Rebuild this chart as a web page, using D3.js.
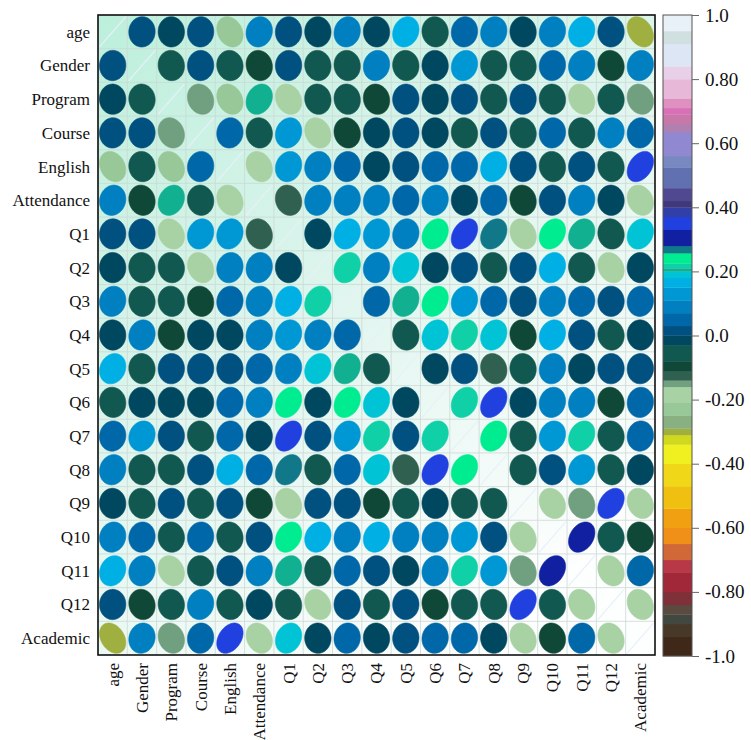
<!DOCTYPE html>
<html>
<head>
<meta charset="utf-8">
<script src="https://cdn.jsdelivr.net/npm/d3@7"></script>
<style>
  html, body { margin: 0; padding: 0; background: #ffffff; }
  svg { display: block; font-family: "Liberation Serif", "Times New Roman", serif; }
</style>
</head>
<body>
<svg id="chart" width="751" height="740"></svg>
<script>
// Variables in matrix order
const variables = ["age", "Gender", "Program", "Course", "English", "Attendance",
  "Q1", "Q2", "Q3", "Q4", "Q5", "Q6", "Q7", "Q8", "Q9", "Q10", "Q11", "Q12", "Academic"];

// Upper triangle of the correlation matrix, one row per variable (entries right of the diagonal)
const corrUpper = [
  [0.02, -0.01, 0.02, -0.22, 0.09, 0.02, -0.01, 0.09, -0.02, 0.16, -0.05, 0.05, 0.09, -0.02, 0.09, 0.16, 0.01, -0.30],
  [-0.04, 0.01, -0.05, -0.09, 0.02, -0.05, -0.05, 0.09, -0.04, -0.02, 0.13, -0.04, -0.07, 0.05, 0.09, -0.09, 0.09],
  [-0.15, -0.22, 0.205, -0.19, -0.06, -0.06, -0.09, 0.01, -0.02, 0.01, -0.07, 0.02, -0.04, -0.19, -0.04, -0.15],
  [0.05, -0.05, 0.13, -0.19, -0.09, -0.02, 0.02, -0.01, -0.06, 0.01, -0.07, 0.05, -0.05, 0.09, 0.05],
  [-0.19, 0.13, 0.09, 0.05, -0.02, 0.00, 0.05, 0.05, 0.16, 0.01, -0.06, 0.01, -0.07, 0.35],
  [-0.12, 0.09, 0.09, 0.09, 0.05, 0.09, -0.01, 0.05, -0.09, 0.02, 0.09, -0.02, -0.19],
  [-0.02, 0.16, 0.13, 0.09, 0.24, 0.35, 0.27, -0.19, 0.24, 0.205, -0.07, 0.19],
  [0.215, 0.09, 0.19, -0.01, 0.02, -0.07, 0.02, 0.16, -0.06, -0.19, -0.01],
  [0.05, 0.205, 0.24, 0.13, 0.05, 0.01, 0.09, 0.05, 0.00, 0.05],
  [-0.05, 0.19, 0.215, 0.19, -0.09, 0.16, 0.01, -0.05, -0.03],
  [-0.02, 0.01, -0.12, -0.04, 0.09, -0.01, 0.01, 0.02],
  [0.215, 0.35, -0.02, 0.09, 0.09, -0.09, 0.05],
  [0.24, -0.05, 0.13, 0.215, -0.05, 0.05],
  [-0.04, 0.01, 0.13, -0.07, -0.01],
  [-0.19, -0.15, 0.35, -0.19],
  [0.30, -0.05, -0.09],
  [-0.19, 0.05],
  [-0.19]
];

// Stepped palette: band boundaries and the colour of each band (from -1 up to 1)
const paletteBreaks = [-0.94, -0.90, -0.87, -0.84, -0.80, -0.74, -0.70, -0.65, -0.60, -0.54,
  -0.47, -0.40, -0.34, -0.31, -0.29, -0.25, -0.21, -0.16, -0.14, -0.11, -0.08, -0.03, 0.0,
  0.03, 0.07, 0.11, 0.15, 0.18, 0.20, 0.21, 0.225, 0.257, 0.28, 0.33, 0.37, 0.40, 0.42,
  0.46, 0.525, 0.56, 0.635, 0.66, 0.69, 0.71, 0.74, 0.80, 0.84, 0.91, 0.95];
const paletteColors = ["#402818", "#483828", "#404840", "#5a4a40", "#803038", "#a02838",
  "#b83848", "#d06838", "#f09018", "#f0a010", "#f0c010", "#f0d818", "#f0f020", "#d0d820",
  "#a0b040", "#88b080", "#98c898", "#a8d2a4", "#70a080", "#306050", "#104838", "#105850",
  "#004860", "#005080", "#0068a8", "#0080c0", "#0098d4", "#00b0e4", "#00c4d6", "#10b090",
  "#10d0a8", "#00ec90", "#107888", "#1020a0", "#2040e0", "#3040a8", "#403878", "#504890",
  "#6070b0", "#7888c0", "#9088d0", "#b080b0", "#c878a8", "#d870b8", "#e090c0", "#e8b8d8",
  "#e8d0e8", "#dce6f4", "#d0e0e0", "#e8f0f8"];

// Colour bar ticks
const barTicks = [1, 0.8, 0.6, 0.4, 0.2, 0, -0.2, -0.4, -0.6, -0.8, -1];
const barTickLabels = ["1.0", "0.80", "0.60", "0.40", "0.20", "0.0", "-0.20", "-0.40", "-0.60", "-0.80", "-1.0"];

// Full symmetric matrix
const n = variables.length;
const corr = variables.map((_, i) => variables.map((_, j) => {
  if (i === j) return 1;
  const a = Math.min(i, j), b = Math.max(i, j);
  return corrUpper[a][b - a - 1];
}));

const svg = d3.select("#chart");
const plot = { left: 98, top: 15, right: 655, bottom: 655 };

const x = d3.scaleBand().domain(variables).range([plot.left, plot.right]);
const y = d3.scaleBand().domain(variables).range([plot.top, plot.bottom]);
const color = d3.scaleThreshold().domain(paletteBreaks).range(paletteColors);

// Soft background wash behind the matrix
const defs = svg.append("defs");
const grad = defs.append("linearGradient").attr("id", "bgWash")
  .attr("x1", "0").attr("y1", "0").attr("x2", "0.65").attr("y2", "1");
grad.append("stop").attr("offset", "0").attr("stop-color", "#bcefdc");
grad.append("stop").attr("offset", "0.55").attr("stop-color", "#e2f6ef");
grad.append("stop").attr("offset", "1").attr("stop-color", "#fdfefe");

svg.append("rect")
  .attr("x", plot.left).attr("y", plot.top)
  .attr("width", plot.right - plot.left).attr("height", plot.bottom - plot.top)
  .attr("fill", "url(#bgWash)");

// Cell grid
const grid = svg.append("g").attr("stroke", "#cdd8d6").attr("stroke-width", 0.8);
variables.forEach(v => {
  grid.append("line").attr("x1", x(v)).attr("x2", x(v)).attr("y1", plot.top).attr("y2", plot.bottom);
  grid.append("line").attr("y1", y(v)).attr("y2", y(v)).attr("x1", plot.left).attr("x2", plot.right);
});

// Ellipse outline for a correlation rho, in unit-cell coordinates
const ellipseScale = 0.9;
function ellipsePoints(rho) {
  const a = Math.acos(Math.max(-1, Math.min(1, rho)));
  return d3.range(0, 100).map(t => {
    const k = t / 99 * 2 * Math.PI;
    return [ellipseScale * Math.cos(k + a / 2) / 2, ellipseScale * Math.cos(k - a / 2) / 2];
  });
}

const cells = [];
for (let i = 0; i < n; i++) for (let j = 0; j < n; j++) cells.push({ i, j, v: corr[i][j] });

const line = d3.line();
const bw = x.bandwidth(), bh = y.bandwidth();
svg.append("g").selectAll("path").data(cells).join("path")
  .attr("d", d => {
    const cx = x(variables[d.j]) + bw / 2, cy = y(variables[d.i]) + bh / 2;
    const pts = ellipsePoints(d.v).map(([ex, ey]) => [cx + ex * bw, cy - ey * bh]);
    return line(pts) + "Z";
  })
  .attr("fill", d => color(d.v))
  .attr("stroke", d => color(d.v))
  .attr("stroke-width", d => d.i === d.j ? 1.2 : 0.6);

// Frame
svg.append("rect")
  .attr("x", plot.left).attr("y", plot.top)
  .attr("width", plot.right - plot.left).attr("height", plot.bottom - plot.top)
  .attr("fill", "none").attr("stroke", "#111").attr("stroke-width", 1.6);

// Row labels
svg.append("g").selectAll("text").data(variables).join("text")
  .attr("x", plot.left - 8)
  .attr("y", d => y(d) + bh / 2)
  .attr("dy", "0.35em")
  .attr("text-anchor", "end")
  .attr("font-size", 17)
  .attr("fill", "#111")
  .text(d => d);

// Column labels, rotated
svg.append("g").selectAll("text").data(variables).join("text")
  .attr("transform", d => `translate(${x(d) + bw / 2},${plot.bottom + 8}) rotate(-90)`)
  .attr("dy", "0.35em")
  .attr("text-anchor", "end")
  .attr("font-size", 17)
  .attr("fill", "#111")
  .text(d => d);

// Colour bar
const bar = { x: 663, w: 29 };
const barScale = d3.scaleLinear().domain([-1, 1]).range([656, 15]);
const bands = d3.pairs([-1, ...paletteBreaks, 1]);
svg.append("g").selectAll("rect").data(bands).join("rect")
  .attr("x", bar.x)
  .attr("y", d => barScale(d[1]))
  .attr("width", bar.w)
  .attr("height", d => barScale(d[0]) - barScale(d[1]) + 0.3)
  .attr("fill", d => color((d[0] + d[1]) / 2));
svg.append("rect")
  .attr("x", bar.x).attr("y", barScale(1))
  .attr("width", bar.w).attr("height", barScale(-1) - barScale(1))
  .attr("fill", "none").attr("stroke", "#555").attr("stroke-width", 1);

const axis = d3.axisRight(barScale)
  .tickValues(barTicks)
  .tickSize(7)
  .tickPadding(6)
  .tickFormat((d, i) => barTickLabels[i]);
const axisG = svg.append("g").attr("transform", `translate(${bar.x + bar.w},0)`).call(axis);
axisG.select(".domain").remove();
axisG.selectAll("line").attr("stroke", "#666");
axisG.selectAll("text")
  .attr("font-family", "'Liberation Serif', 'Times New Roman', serif")
  .attr("font-size", 19)
  .attr("fill", "#111");
</script>
</body>
</html>
